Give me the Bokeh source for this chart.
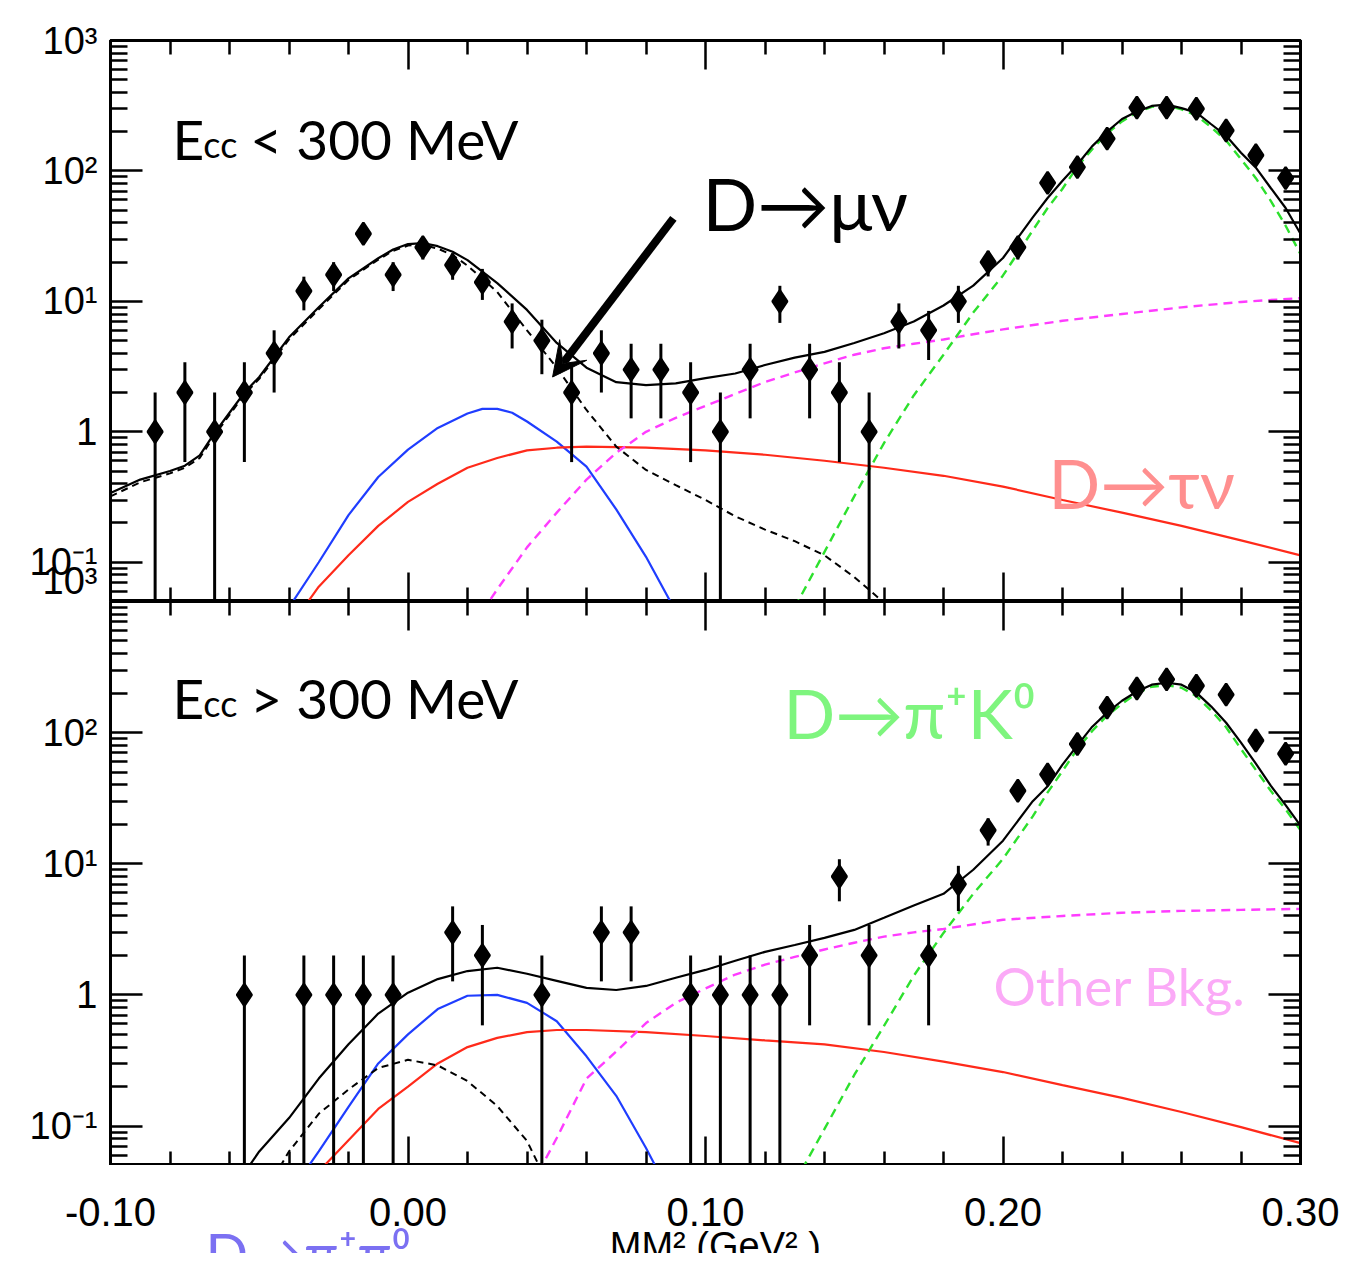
import math
from bokeh.plotting import figure
from bokeh.models import (Range1d, LinearAxis, LogAxis, FixedTicker,
                          CustomJSTickFormatter, Label, Arrow, VeeHead)
from bokeh.layouts import column, row
from bokeh.embed import file_html
from bokeh.resources import INLINE

# ---------------- data: upper panel (E_cc < 300 MeV) ----------------
top_bins = [-0.085, -0.075, -0.065, -0.055, -0.045, -0.035, -0.025, -0.015, -0.005,
            0.005, 0.015, 0.025, 0.035, 0.045, 0.055, 0.065, 0.075, 0.085, 0.095,
            0.105, 0.115, 0.125, 0.135, 0.145, 0.155, 0.165, 0.175, 0.185, 0.195,
            0.205, 0.215, 0.225, 0.235, 0.245, 0.255, 0.265, 0.275, 0.285, 0.295]
top_counts = [1, 2, 1, 2, 4, 12, 16, 33, 16,
              26, 19, 14, 7, 5, 2, 4, 3, 3, 2,
              1, 3, 10, 3, 2, 1, 7, 6, 10, 20,
              26, 81, 107, 177, 306, 306, 300, 204, 132, 88]

top_total_x = [-0.10, -0.09, -0.08, -0.075, -0.07, -0.065, -0.06, -0.055, -0.05, -0.04,
               -0.03, -0.02, -0.01, -0.005, 0.00, 0.005, 0.01, 0.015, 0.02, 0.03, 0.04,
               0.05, 0.06, 0.07, 0.08, 0.09, 0.10, 0.11, 0.12, 0.13, 0.14, 0.15, 0.16,
               0.17, 0.18, 0.19, 0.20, 0.21, 0.215, 0.22, 0.225, 0.23, 0.235, 0.24,
               0.245, 0.25, 0.255, 0.26, 0.265, 0.27, 0.275, 0.28, 0.285, 0.29, 0.295, 0.30]
top_total_y = [0.34, 0.43, 0.50, 0.55, 0.66, 0.98, 1.40, 2.0, 2.63, 5.3,
               9.0, 15.0, 21.4, 25.0, 27.5, 28.0, 26.5, 24.0, 20.7, 13.8, 8.6,
               4.8, 3.1, 2.4, 2.28, 2.35, 2.58, 2.8, 3.25, 3.7, 4.1, 4.8, 5.7,
               7.0, 9.3, 13.2, 21.5, 44, 62, 84, 112, 155, 200, 250,
               285, 315, 322, 303, 280, 228, 186, 138, 106, 74, 52, 33]

top_mu_x = [-0.10, -0.09, -0.08, -0.075, -0.07, -0.065, -0.06, -0.055, -0.05, -0.04,
            -0.03, -0.02, -0.01, -0.005, 0.00, 0.005, 0.01, 0.015, 0.02, 0.03, 0.04,
            0.05, 0.06, 0.07, 0.08, 0.09, 0.10, 0.11, 0.12, 0.13, 0.14, 0.15, 0.16]
top_mu_y = [0.32, 0.41, 0.48, 0.53, 0.63, 0.94, 1.35, 1.93, 2.55, 5.1,
            8.7, 14.6, 20.9, 24.4, 26.8, 27.1, 25.4, 22.6, 18.8, 11.8, 6.0,
            3.1, 1.47, 0.77, 0.51, 0.39, 0.30, 0.225, 0.178, 0.145, 0.113, 0.077, 0.049]

top_pipi_x = [-0.04, -0.03, -0.02, -0.01, 0.00, 0.01, 0.02, 0.025, 0.03, 0.035,
              0.04, 0.05, 0.06, 0.07, 0.08, 0.09]
top_pipi_y = [0.045, 0.10, 0.23, 0.45, 0.73, 1.07, 1.38, 1.50, 1.50, 1.40,
              1.20, 0.84, 0.54, 0.254, 0.11, 0.042]

top_tau_x = [-0.035, -0.03, -0.02, -0.01, 0.00, 0.01, 0.02, 0.03, 0.04, 0.05, 0.06,
             0.08, 0.10, 0.12, 0.14, 0.16, 0.18, 0.20, 0.22, 0.24, 0.26, 0.28, 0.30]
top_tau_y = [0.045, 0.065, 0.113, 0.19, 0.29, 0.40, 0.53, 0.63, 0.72, 0.755, 0.77,
             0.755, 0.72, 0.667, 0.60, 0.53, 0.46, 0.38, 0.30, 0.24, 0.19, 0.147, 0.113]

top_bkg_x = [0.025, 0.03, 0.04, 0.05, 0.06, 0.07, 0.08, 0.09, 0.10, 0.11, 0.12, 0.13,
             0.14, 0.15, 0.16, 0.17, 0.18, 0.19, 0.20, 0.22, 0.24, 0.26, 0.28, 0.30]
top_bkg_y = [0.042, 0.062, 0.13, 0.24, 0.43, 0.69, 1.0, 1.28, 1.58, 1.95, 2.41, 2.85,
             3.35, 3.9, 4.37, 4.73, 5.1, 5.6, 6.1, 7.1, 8.0, 9.0, 9.9, 10.6]

top_k0_x = [0.13, 0.14, 0.15, 0.16, 0.17, 0.18, 0.19, 0.20, 0.21, 0.215, 0.22, 0.225,
            0.23, 0.235, 0.24, 0.245, 0.25, 0.255, 0.26, 0.265, 0.27, 0.275, 0.28,
            0.285, 0.29, 0.295, 0.30]
top_k0_y = [0.045, 0.12, 0.32, 0.82, 1.9, 3.9, 8.2, 15.8, 35, 52, 73, 108,
            147, 194, 240, 280, 310, 317, 297, 266, 216, 171, 123,
            88, 59, 38, 23]

# ---------------- data: lower panel (E_cc > 300 MeV) ----------------
bot_bins = [-0.055, -0.035, -0.025, -0.015, -0.005, 0.015, 0.025, 0.045, 0.065, 0.075,
            0.095, 0.105, 0.115, 0.125, 0.135, 0.145, 0.155, 0.175, 0.185, 0.195,
            0.205, 0.215, 0.225, 0.235, 0.245, 0.255, 0.265, 0.275, 0.285, 0.295]
bot_counts = [1, 1, 1, 1, 1, 3, 2, 1, 3, 3,
              1, 1, 1, 1, 2, 8, 2, 2, 7, 18,
              36, 48, 82, 155, 217, 255, 228, 195, 87, 69]

bot_total_x = [-0.06, -0.05, -0.04, -0.03, -0.02, -0.01, 0.00, 0.01, 0.02, 0.03, 0.04,
               0.05, 0.06, 0.07, 0.08, 0.09, 0.10, 0.11, 0.12, 0.13, 0.14, 0.15, 0.16,
               0.17, 0.18, 0.19, 0.20, 0.21, 0.215, 0.22, 0.225, 0.23, 0.235, 0.24,
               0.245, 0.25, 0.255, 0.26, 0.265, 0.27, 0.275, 0.28, 0.285, 0.29, 0.295, 0.30]
bot_total_y = [0.03, 0.064, 0.115, 0.23, 0.42, 0.72, 1.04, 1.32, 1.52, 1.61, 1.45,
               1.28, 1.13, 1.09, 1.17, 1.35, 1.55, 1.82, 2.13, 2.4, 2.72, 3.13, 3.87,
               4.8, 5.9, 9.0, 15, 30, 39, 57, 80, 111, 142, 175,
               206, 232, 240, 232, 202, 158, 119, 84, 58, 39.4, 28, 19.5]

bot_mu_x = [-0.045, -0.04, -0.03, -0.02, -0.01, 0.00, 0.01, 0.02, 0.03, 0.04, 0.045, 0.05]
bot_mu_y = [0.041, 0.064, 0.124, 0.19, 0.277, 0.32, 0.29, 0.22, 0.142, 0.077, 0.045, 0.03]

bot_pipi_x = [-0.035, -0.03, -0.02, -0.01, 0.00, 0.01, 0.02, 0.03, 0.04, 0.05, 0.06,
              0.07, 0.08, 0.09]
bot_pipi_y = [0.044, 0.064, 0.14, 0.30, 0.50, 0.78, 0.985, 1.0, 0.87, 0.63, 0.34,
              0.17, 0.068, 0.025]

bot_tau_x = [-0.03, -0.02, -0.01, 0.00, 0.01, 0.02, 0.03, 0.04, 0.05, 0.06, 0.08,
             0.10, 0.12, 0.14, 0.16, 0.18, 0.20, 0.22, 0.24, 0.26, 0.28, 0.30]
bot_tau_y = [0.045, 0.078, 0.135, 0.20, 0.30, 0.40, 0.47, 0.52, 0.54, 0.54, 0.52,
             0.486, 0.45, 0.42, 0.367, 0.31, 0.258, 0.205, 0.164, 0.128, 0.098, 0.074]

bot_bkg_x = [0.044, 0.05, 0.06, 0.07, 0.08, 0.09, 0.10, 0.11, 0.12, 0.13, 0.14, 0.15,
             0.16, 0.17, 0.18, 0.20, 0.22, 0.24, 0.26, 0.28, 0.30]
bot_bkg_y = [0.045, 0.081, 0.23, 0.37, 0.61, 0.87, 1.12, 1.43, 1.70, 1.95, 2.22, 2.5,
             2.78, 3.0, 3.18, 3.74, 4.0, 4.23, 4.37, 4.45, 4.53]

bot_k0_x = [0.13, 0.14, 0.15, 0.16, 0.17, 0.18, 0.19, 0.20, 0.21, 0.215, 0.22, 0.225,
            0.23, 0.235, 0.24, 0.245, 0.25, 0.255, 0.26, 0.265, 0.27, 0.275, 0.28,
            0.285, 0.29, 0.295, 0.30]
bot_k0_y = [0.037, 0.095, 0.245, 0.58, 1.40, 2.97, 5.9, 10.9, 23, 35, 51, 75,
            103, 135, 166, 200, 224, 230, 220, 190, 147, 110, 75,
            52, 36, 26, 18]

# ---------------- axis ticks / labels ----------------
x_major = [-0.1, 0.0, 0.1, 0.2, 0.3]
x_minor = [-0.08, -0.06, -0.04, -0.02, 0.02, 0.04, 0.06, 0.08, 0.12, 0.14, 0.16,
           0.18, 0.22, 0.24, 0.26, 0.28]
y_major = [0.1, 1, 10, 100, 1000]
y_minor = [m * 10.0 ** e for e in range(-2, 3) for m in range(2, 10)]
# label positions of the left axes; in the upper panel the extra one just above the
# shared edge carries the lower panel's "10^3" label
y_labels_top = [0.065, 0.1, 1, 10, 100, 1000]
y_labels_bot = [0.1, 1, 10, 100]

AX_FONT = "Liberation Sans"
ANN_FONT = "Lato"

C_BLUE = "#1f3dff"
C_RED = "#ff2a1a"
C_MAG = "#ff3cff"
C_GREEN = "#2de02d"

BORDER_L = 110
BORDER_R = 40
FRAME_W = 1190
PX_PER_UNIT = FRAME_W / 0.4

Y_FMT = CustomJSTickFormatter(code="""
    if (tick < 0.08) { return "10\\u00B3"; }
    const e = Math.round(Math.log10(tick));
    if (e == -1) { return "10\\u207B\\u00B9"; }
    if (e == 0) { return "1"; }
    if (e == 1) { return "10\\u00B9"; }
    if (e == 2) { return "10\\u00B2"; }
    if (e == 3) { return "10\\u00B3"; }
    return " ";
""")


def style_axis(ax, major_len, minor_len):
    ax.major_tick_in = major_len
    ax.major_tick_out = 0
    ax.minor_tick_in = minor_len
    ax.minor_tick_out = 0
    ax.major_tick_line_width = 2.5
    ax.minor_tick_line_width = 2.5
    ax.major_tick_line_color = "black"
    ax.minor_tick_line_color = "black"
    ax.axis_line_width = 3
    ax.axis_line_color = "black"
    ax.major_label_text_font = AX_FONT
    ax.major_label_text_font_size = "1px"
    ax.major_label_text_alpha = 0.0
    ax.major_label_standoff = 0


def make_panel(frame_h, border_top, y_label_ticks):
    p = figure(frame_width=FRAME_W, frame_height=frame_h,
               x_range=Range1d(-0.1, 0.3), y_range=Range1d(0.05, 1000),
               y_axis_type="log", output_backend="svg", toolbar_location=None,
               min_border_left=BORDER_L, min_border_right=BORDER_R,
               min_border_top=border_top, min_border_bottom=0,
               outline_line_color="black", outline_line_width=3,
               background_fill_color="white", border_fill_color="white")
    p.grid.visible = False

    bx = p.xaxis[0]
    bx.ticker = FixedTicker(ticks=x_major, minor_ticks=x_minor)
    style_axis(bx, 29, 14)

    tx = LinearAxis(ticker=FixedTicker(ticks=x_major, minor_ticks=x_minor))
    style_axis(tx, 29, 14)
    p.add_layout(tx, "above")

    ly = p.yaxis[0]
    ly.ticker = FixedTicker(ticks=y_major, minor_ticks=y_minor)
    style_axis(ly, 32, 17)

    # tick labels of the y axis (ticks themselves drawn by the inner axis)
    lab = LogAxis(ticker=FixedTicker(ticks=y_label_ticks, minor_ticks=[]), formatter=Y_FMT,
                  major_tick_in=0, major_tick_out=0, minor_tick_in=0, minor_tick_out=0,
                  axis_line_color=None, major_tick_line_color=None,
                  minor_tick_line_color=None, major_label_text_font=AX_FONT,
                  major_label_text_font_size="38px", major_label_text_color="black",
                  major_label_standoff=13)
    p.add_layout(lab, "left")

    ry = LogAxis(ticker=FixedTicker(ticks=y_major, minor_ticks=y_minor))
    style_axis(ry, 32, 17)
    p.add_layout(ry, "right")
    return p


def draw_panel(p, bins, counts, tot, mu, pipi, tau, bkg, k0):
    p.line(pipi[0], pipi[1], line_color=C_BLUE, line_width=2.2)
    p.line(tau[0], tau[1], line_color=C_RED, line_width=2.2)
    p.line(bkg[0], bkg[1], line_color=C_MAG, line_width=2.4, line_dash="9 6")
    p.line(k0[0], k0[1], line_color=C_GREEN, line_width=2.4, line_dash="9 6")
    p.line(mu[0], mu[1], line_color="black", line_width=2.0, line_dash="7 5")
    p.line(tot[0], tot[1], line_color="black", line_width=2.2)
    err = [math.sqrt(n) for n in counts]
    lo = [n - e if n - e > 0 else 1e-3 for n, e in zip(counts, err)]
    hi = [n + e for n, e in zip(counts, err)]
    p.segment(x0=bins, y0=lo, x1=bins, y1=hi, line_color="black", line_width=3)
    p.scatter(bins, counts, marker="diamond", size=22, color="black", line_width=2.5)


def text(p, x, y, s, size, color="black", font=ANN_FONT, align="left"):
    p.add_layout(Label(x=x, y=y, text=s, text_font=font, text_font_size=size,
                       text_color=color, text_align=align, text_baseline="alphabetic"))


# ---------------- upper panel ----------------
top = make_panel(561, 40, y_labels_top)
draw_panel(top, top_bins, top_counts, (top_total_x, top_total_y), (top_mu_x, top_mu_y),
           (top_pipi_x, top_pipi_y), (top_tau_x, top_tau_y), (top_bkg_x, top_bkg_y),
           (top_k0_x, top_k0_y))
text(top, -0.0792, 177, "E", "55px")
text(top, -0.0688, 162, "cc", "36px")
text(top, -0.0530, 177, "< 300 MeV", "55px")
text(top, 0.099, 56.4, "D\u2192\u03bc\u03bd", "72px")
text(top, 0.2153, 0.407, "D\u2192\u03c4\u03bd", "68px", color="#ff8f8f")
top.add_layout(Arrow(end=VeeHead(size=34, fill_color="black", line_color="black"),
                     x_start=0.0892, y_start=43.3, x_end=0.0486, y_end=2.63,
                     line_width=8, line_color="black"))

# ---------------- lower panel ----------------
bot = make_panel(564, 0, y_labels_bot)
draw_panel(bot, bot_bins, bot_counts, (bot_total_x, bot_total_y), (bot_mu_x, bot_mu_y),
           (bot_pipi_x, bot_pipi_y), (bot_tau_x, bot_tau_y), (bot_bkg_x, bot_bkg_y),
           (bot_k0_x, bot_k0_y))
text(bot, -0.0792, 185, "E", "55px")
text(bot, -0.0688, 169, "cc", "36px")
text(bot, -0.0530, 185, "> 300 MeV", "55px")
text(bot, 0.1262, 142, "D\u2192\u03c0\u207aK\u2070", "68px", color="#7ef57e")
text(bot, 0.1968, 1.17, "Other Bkg.", "53px", color="#fbaaf7")

# ---------------- strip below the lower panel: x tick labels, axis title, pi+pi0 tag ----
# same MM^2 scale as the panels, widened to the full page width (y counts pixels upward)
foot = figure(frame_width=BORDER_L + FRAME_W + BORDER_R, frame_height=88,
              x_range=Range1d(-0.1 - BORDER_L / PX_PER_UNIT, 0.3 + BORDER_R / PX_PER_UNIT),
              y_range=Range1d(0, 88), min_border_left=0, min_border_right=0,
              min_border_top=0, min_border_bottom=0, x_axis_location=None,
              y_axis_location=None, outline_line_color=None, toolbar_location=None,
              output_backend="svg", background_fill_color="white", border_fill_color="white")
foot.grid.visible = False
for v in x_major:
    text(foot, v, 42, f"{v:.2f}", "40px", font=AX_FONT, align="center")
text(foot, -0.0681, 1, "D\u2192\u03c0\u207a\u03c0\u2070", "56px", color="#7b70f2")
text(foot, 0.1033, 8, "MM\u00B2 (GeV\u00B2 )", "38px", font=AX_FONT, align="center")

layout = column(top, bot, row(foot, spacing=0), spacing=0)

with open("out.html", "w") as f:
    f.write(file_html(layout, INLINE))
